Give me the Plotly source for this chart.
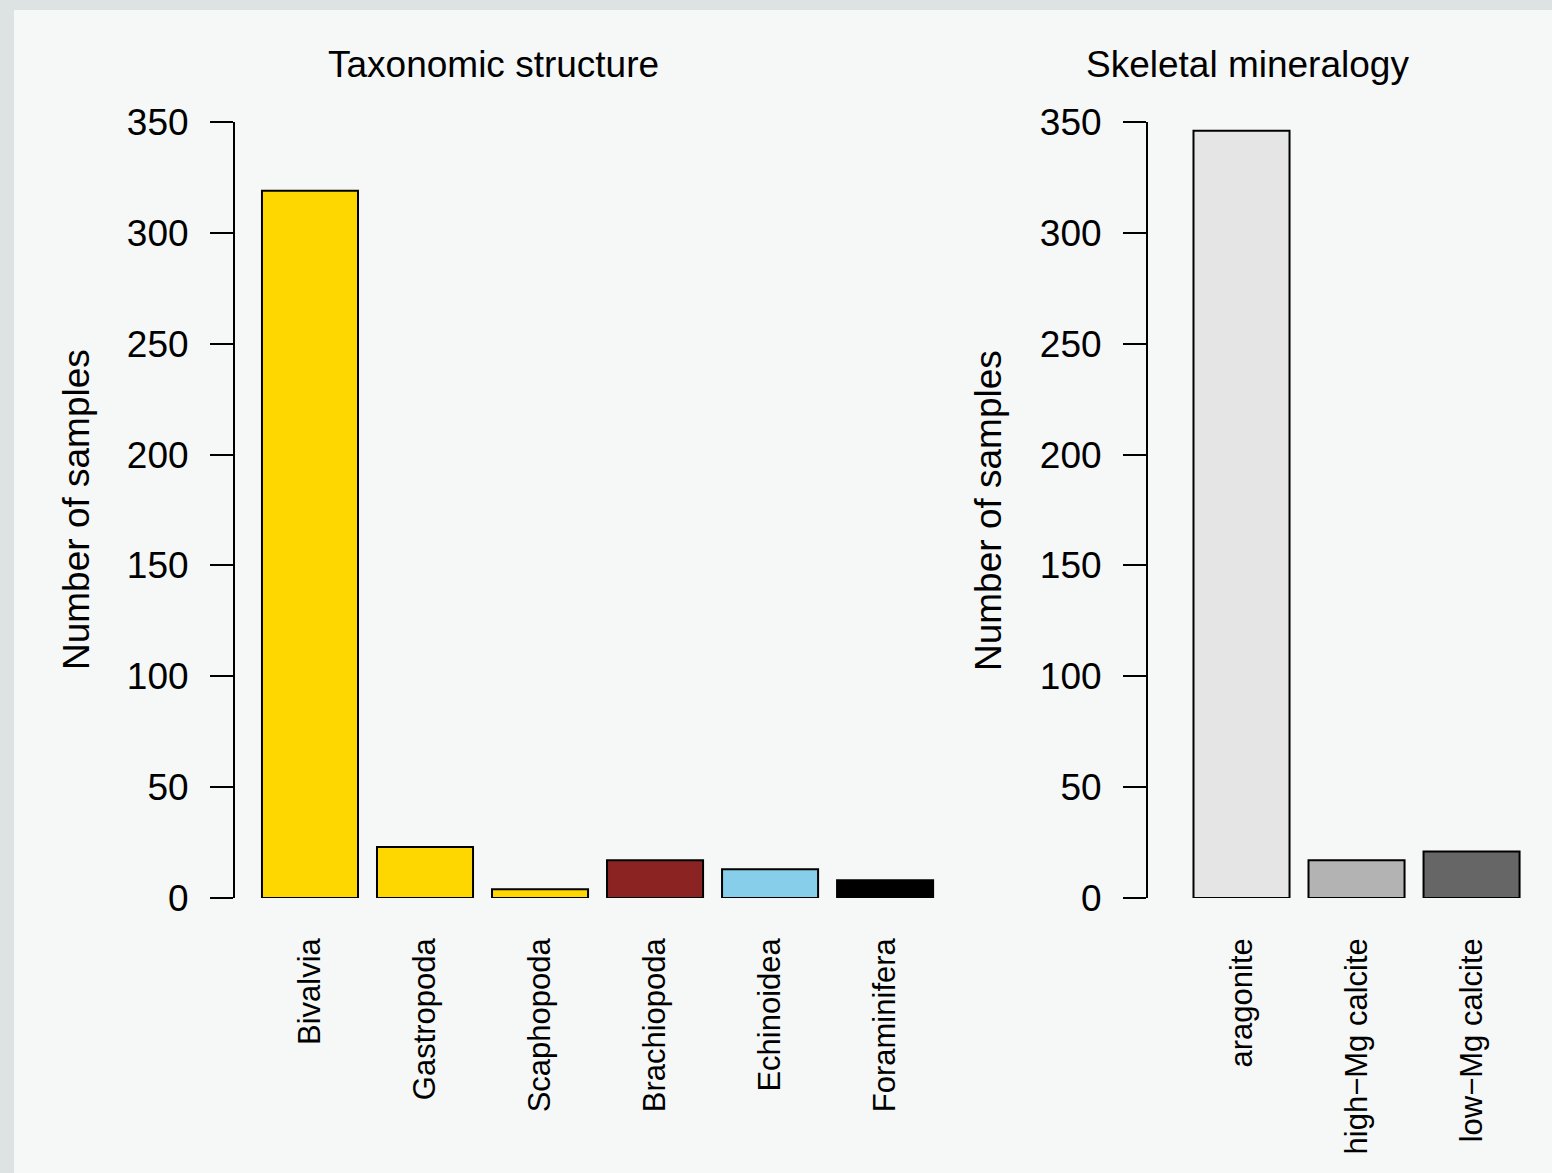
import plotly.graph_objects as go

W, H = 1552, 1173

taxa = ["Bivalvia", "Gastropoda", "Scaphopoda", "Brachiopoda", "Echinoidea", "Foraminifera"]
taxa_counts = [319, 23, 4, 17, 13, 8]
taxa_colors = ["#FFD700", "#FFD700", "#FFD700", "#8B2323", "#87CEEB", "#000000"]

minerals = ["aragonite", "high\u2212Mg calcite", "low\u2212Mg calcite"]
mineral_counts = [346, 17, 21]
mineral_colors = ["#E5E5E5", "#B3B3B3", "#666666"]

y_ticks = [0, 50, 100, 150, 200, 250, 300, 350]

FONT = "Liberation Sans, Arial, Helvetica, sans-serif"

def px(x):
    return x / W

def py(y):
    return 1 - y / H

fig = go.Figure()
fig.add_trace(go.Bar(x=taxa, y=taxa_counts, marker=dict(color=taxa_colors, line=dict(color="black", width=2)),
                     xaxis="x", yaxis="y", showlegend=False, hoverinfo="x+y"))
fig.add_trace(go.Bar(x=minerals, y=mineral_counts, marker=dict(color=mineral_colors, line=dict(color="black", width=2)),
                     xaxis="x2", yaxis="y2", showlegend=False, hoverinfo="x+y"))

yax = dict(range=[0, 350], tickvals=y_ticks, ticks="outside", ticklen=23, tickwidth=2, tickcolor="black",
           showline=True, linewidth=2, linecolor="black", showgrid=False, zeroline=False, automargin=False,
           tickfont=dict(size=37, color="black", family=FONT), ticklabelstandoff=14,
           domain=[py(898), py(122)])
xax = dict(type="category", showline=False, ticks="", showgrid=False, zeroline=False, tickangle=-90,
           automargin=False, tickfont=dict(size=31, color="black", family=FONT), ticklabelstandoff=33)

fig.update_layout(
    width=W, height=H,
    margin=dict(l=0, r=0, t=0, b=0, pad=0),
    paper_bgcolor="#dde3e2",
    plot_bgcolor="rgba(0,0,0,0)",
    bargap=0.165,
    font=dict(family=FONT, color="black"),
    xaxis=dict(xax, domain=[px(235), px(961)], range=[-0.652, 5.66], anchor="y"),
    yaxis=dict(yax, anchor="x"),
    xaxis2=dict(xax, domain=[px(1148), px(1547)], range=[-0.813, 2.656], anchor="y2"),
    yaxis2=dict(yax, anchor="x2"),
    shapes=[dict(type="rect", xref="paper", yref="paper", x0=px(14), x1=1.0, y0=0, y1=py(10),
                 fillcolor="#f6f8f7", line=dict(width=0), layer="below")],
    annotations=[
        dict(text="Taxonomic structure", x=px(493), y=py(65), xref="paper", yref="paper",
             showarrow=False, font=dict(size=37, family=FONT, color="black"), xanchor="center", yanchor="middle"),
        dict(text="Skeletal mineralogy", x=px(1247), y=py(65), xref="paper", yref="paper",
             showarrow=False, font=dict(size=37, family=FONT, color="black"), xanchor="center", yanchor="middle"),
        dict(text="Number of samples", x=px(77), y=py(510), xref="paper", yref="paper", textangle=-90,
             showarrow=False, font=dict(size=37, family=FONT, color="black"), xanchor="center", yanchor="middle"),
        dict(text="Number of samples", x=px(989), y=py(510), xref="paper", yref="paper", textangle=-90,
             showarrow=False, font=dict(size=37, family=FONT, color="black"), xanchor="center", yanchor="middle"),
    ],
)

fig.write_html("out.html", config={"displayModeBar": False},
               post_script="document.body.style.margin='0';document.body.style.overflow='hidden';")
